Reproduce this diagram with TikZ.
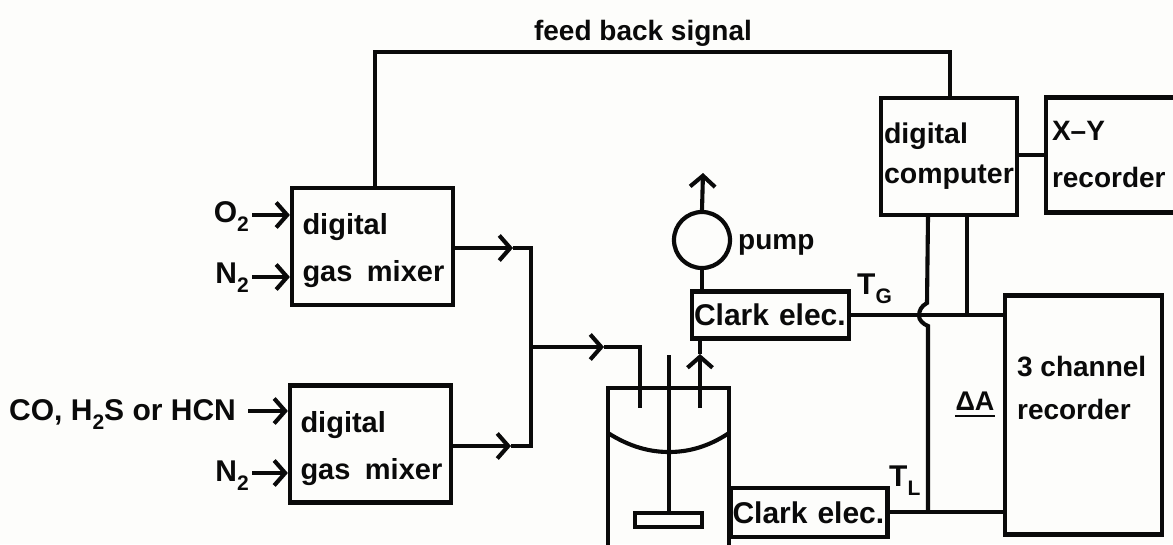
\documentclass[tikz,border=0pt]{standalone}
\usepackage{fontspec}
\setmainfont{Liberation Sans}
\usetikzlibrary{arrows.meta,positioning}
\definecolor{ink}{HTML}{0A0A0A}
\definecolor{paper}{HTML}{FDFDFB}
\newcommand{\lsub}[1]{\raisebox{-0.32em}{\fontsize{21}{21}\selectfont #1}}
\tikzset{
  wire/.style={line width=4.1pt,draw=ink,line join=miter},
  flow/.style={wire,-{Straight Barb[length=11pt,width=25pt,line width=4.1pt]}},
  boxnode/.style={draw=ink,line width=4.2pt,inner sep=0pt,align=left,font=\fontsize{29}{47}\selectfont\bfseries,text=ink},
  mixerbox/.style={boxnode,minimum width=161pt,minimum height=117pt,text width=140pt},
  clarkbox/.style={boxnode,minimum width=157pt,minimum height=47pt,text width=153pt,font=\fontsize{30}{32}\selectfont\bfseries},
  label/.style={inner sep=0pt,text=ink,font=\fontsize{30}{30}\selectfont\bfseries}
}
\begin{document}
\begin{tikzpicture}[x=1pt,y=-1pt]
\useasboundingbox (0,0) rectangle (1173,544);
\clip (0,0) rectangle (1173,544);
\fill[paper] (0,0) rectangle (1173,544);
% boxes
\node[mixerbox] (mixA) at (372.5,246.5) {\rule{0pt}{30pt}digital\\\mbox{gas\ \,mixer}};
\node[mixerbox] (mixB) at (370.5,444) {\rule{0pt}{30pt}digital\\\mbox{gas\ \,mixer}};
\node[boxnode,font=\fontsize{28.5}{40}\selectfont\bfseries,minimum width=136pt,minimum height=117pt,text width=130pt] (comp) at (949,156.5) {digital\\computer};
\node[boxnode,font=\fontsize{28}{47}\selectfont\bfseries,minimum width=150pt,minimum height=115pt,text width=138pt] (xy) at (1121,155) {X--Y\\recorder};
\node[boxnode,minimum width=157pt,minimum height=239pt] (rec3) at (1083.5,415) {};
\node[boxnode,font=\fontsize{28}{43}\selectfont\bfseries,inner sep=0pt,draw=none,anchor=west] (rec3text) at (1015,388) {3 channel\\recorder};
\node[clarkbox] (clarkG) at (770.5,315) {Clark elec.};
\node[clarkbox,minimum height=49pt] (clarkL) at (809,512.5) {Clark elec.};
\node[circle,draw=ink,line width=4.2pt,minimum size=56pt,inner sep=0pt] (pump) at (702,240) {};
\node[draw=ink,line width=4.2pt,minimum width=121pt,minimum height=170pt,inner sep=0pt] (vessel) at (668.5,473) {};
\node[draw=ink,line width=3.4pt,minimum width=67pt,minimum height=14pt,inner sep=0pt] (paddle) at (668.5,520) {};
% labels
\node[label,anchor=base east] (lO) at (249,222) {O\lsub{2}};
\node[label,anchor=base east] (lNa) at (249,283) {N\lsub{2}};
\node[label,anchor=base west] (lCO) at (9,420) {CO, H\lsub{2}S or HCN};
\node[label,anchor=base east] (lNb) at (249,481) {N\lsub{2}};
\node[label,anchor=base,font=\fontsize{28}{30}\selectfont\bfseries] (lfb) at (643,40) {feed back signal};
\node[label,anchor=base west,font=\fontsize{28}{30}\selectfont\bfseries] (lpump) at (738,249) {pump};
\node[label,anchor=base west] (lTG) at (857,294) {T\lsub{G}};
\node[label,anchor=base west] (lTL) at (889,486) {T\lsub{L}};
\node[label,anchor=base,font=\fontsize{27}{30}\selectfont\bfseries] (lDA) at (975,410) {ΔA};
% coordinates
\coordinate (inO) at (252,215);
\coordinate (inNa) at (252,277);
\coordinate (inCO) at (248,411);
\coordinate (inNb) at (252,473);
\coordinate (busT) at (531,248);
\coordinate (busB) at (531,446);
\coordinate (busM) at (531,347);
\coordinate (tipT) at (513,248);
\coordinate (tipB) at (511,446);
\coordinate (tipM) at (604,347);
\coordinate (inBend) at (640,347);
\coordinate (inEnd) at (640,408);
\coordinate (outEnd) at (700,408);
\coordinate (outTip) at (700,354);
\coordinate (pumpTip) at (703,173);
\coordinate (fbL) at (375,52);
\coordinate (fbR) at (950,52);
\coordinate (shaftTop) at (669,355);
\coordinate (arcL) at (608,433);
\coordinate (arcR) at (729,433);
\coordinate (arcM) at (669,452);
\coordinate (busV1) at (928,316);
\coordinate (busV2) at (967,316);
\coordinate (busVb) at (928,512);
\coordinate (ulA) at (955,416);
\coordinate (ulB) at (995,416);
% input arrows
\draw[flow] (inO) -- (mixA.west |- inO);
\draw[flow] (inNa) -- (mixA.west |- inNa);
\draw[flow] (inCO) -- (mixB.west |- inCO);
\draw[flow] (inNb) -- (mixB.west |- inNb);
% merging
\draw[flow] (mixA.east |- tipT) -- (tipT);
\draw[flow] (mixB.east |- tipB) -- (tipB);
\draw[wire] (tipT) -- (busT) -- (busB) -- (tipB);
\draw[flow] (busM) -- (tipM);
\draw[wire] (tipM) -- (inBend) -- (inEnd);
% vessel
\draw[wire] (shaftTop) -- (paddle.north -| shaftTop);
\draw[wire] (arcL) .. controls (630,447) and (650,452) .. (arcM) .. controls (688,452) and (708,447) .. (arcR);
\draw[flow] (outEnd) -- (outTip);
\draw[wire] (outTip) -- (clarkG.south -| outTip);
% pump
\draw[wire] (clarkG.north -| pump) -- (pump.south);
\draw[flow] (pump.north) -- (pumpTip);
% feedback
\draw[wire] (mixA.north -| fbL) -- (fbL) -- (fbR) -- (comp.north -| fbR);
% computer
\draw[wire] (comp.east |- xy.west) -- (xy.west);
\draw[wire] (clarkG.east) -- (rec3.west |- clarkG.east);
\draw[wire] (comp.south -| busV2) -- (busV2);
\draw[wire] (comp.south -| busV1) -- (927,303) .. controls (921,306) and (919,311) .. (919,316) .. controls (919,320) and (923,324) .. (928,326) -- (busVb);
\draw[wire] (clarkL.east |- busVb) -- (rec3.west |- busVb);
\draw[line width=2.8pt,draw=ink] (ulA) -- (ulB);
\end{tikzpicture}
\end{document}
